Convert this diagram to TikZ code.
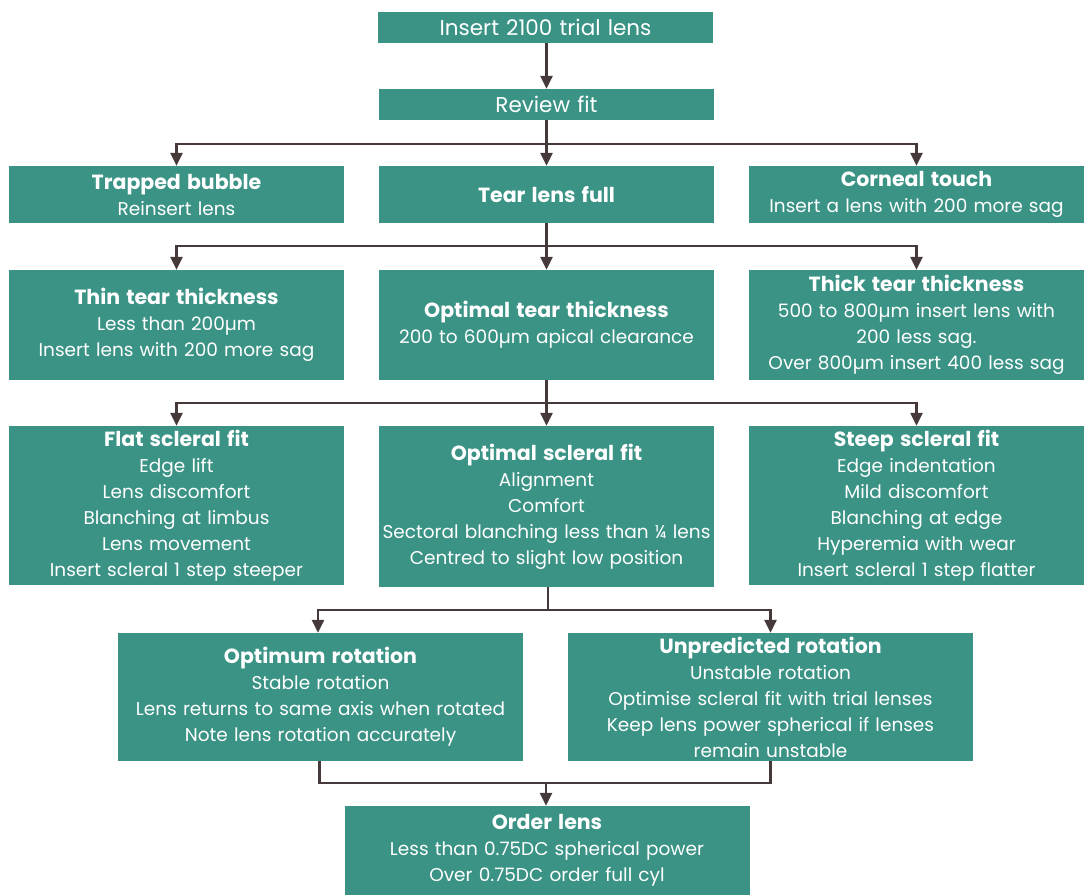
\documentclass[tikz,border=0pt]{standalone}
\usepackage{fontspec}
\setmainfont{Poppins}
\usetikzlibrary{arrows.meta}

\definecolor{boxteal}{HTML}{3A9385}
\definecolor{linebrown}{HTML}{45393A}

\tikzset{
  fitbox/.style={fill=boxteal, text=white, inner sep=0pt, align=center,
    font=\fontsize{18.5}{26}\selectfont},
  bigtext/.style={font=\fontsize{21.5}{26}\selectfont},
  wide/.style={minimum width=335pt, text width=335pt},
  rot/.style={minimum width=405pt, text width=405pt},
  flow/.style={draw=linebrown, line width=2.4pt, -{Triangle[width=12pt,length=13pt]}},
  link/.style={draw=linebrown, line width=2.4pt}
}

\newcommand{\ttl}[1]{{\bfseries\fontsize{20.5}{26}\selectfont #1}}

\begin{document}
\begin{tikzpicture}[x=1pt,y=-1pt]

    \useasboundingbox (0,0) rectangle (1087,895);

    % first two steps
    \node[fitbox, bigtext, wide, minimum height=31pt] (insert) at (545.5,27.5) {Insert 2100 trial lens};

    \node[fitbox, bigtext, wide, minimum height=31pt] (review) at (546.5,104.5) {Review fit};

    % review outcome
    \node[fitbox, wide, minimum height=57pt] (bubble) at (176.5,194.5) {\ttl{Trapped bubble}\\Reinsert lens};

    \node[fitbox, wide, minimum height=57pt] (full) at (546.5,194.5) {\ttl{Tear lens full}};

    \node[fitbox, wide, minimum height=57pt] (touch) at (916.5,194.5) {\ttl{Corneal touch}\\Insert a lens with 200 more sag};

    % tear thickness
    \node[fitbox, wide, minimum height=110pt] (thin) at (176.5,325) {\ttl{Thin tear thickness}\\Less than 200µm\\Insert lens with 200 more sag};

    \node[fitbox, wide, minimum height=110pt] (optear) at (546.5,325) {\ttl{Optimal tear thickness}\\200 to 600µm apical clearance};

    \node[fitbox, wide, minimum height=110pt] (thick) at (916.5,325) {\ttl{Thick tear thickness}\\500 to 800µm insert lens with\\200 less sag.\\Over 800µm insert 400 less sag};

    % scleral fit
    \node[fitbox, wide, minimum height=159pt] (flat) at (176.5,505.5) {\ttl{Flat scleral fit}\\Edge lift\\Lens discomfort\\Blanching at limbus\\Lens movement\\Insert scleral 1 step steeper};

    \node[fitbox, wide, minimum height=161pt] (opscl) at (546.5,506.5) {\ttl{Optimal scleral fit}\\Alignment\\Comfort\\Sectoral blanching less than ¼ lens\\Centred to slight low position};

    \node[fitbox, wide, minimum height=159pt] (steep) at (916.5,505.5) {\ttl{Steep scleral fit}\\Edge indentation\\Mild discomfort\\Blanching at edge\\Hyperemia with wear\\Insert scleral 1 step flatter};

    % rotation
    \node[fitbox, rot, minimum height=128pt] (optrot) at (320.5,697) {\ttl{Optimum rotation}\\Stable rotation\\Lens returns to same axis when rotated\\Note lens rotation accurately};

    \node[fitbox, rot, minimum height=128pt] (unrot) at (770.5,697) {\ttl{Unpredicted rotation}\\Unstable rotation\\Optimise scleral fit with trial lenses\\Keep lens power spherical if lenses\\remain unstable};

    % order
    \node[fitbox, rot, minimum height=89pt] (order) at (547,850.5) {\ttl{Order lens}\\Less than 0.75DC spherical power\\Over 0.75DC order full cyl};

    % junction points
    \coordinate (j1) at (546.5,144);
    \coordinate (j2) at (546.5,246);
    \coordinate (j3) at (546.5,403);
    \coordinate (j4) at (548,610);
    \coordinate (j5) at (546,783);

    \draw[flow] (insert.south -| review) -- (review);

    \draw[flow] (review) -- (full);
    \draw[flow] (j1) -| (bubble);
    \draw[flow] (j1) -| (touch);

    \draw[flow] (full) -- (optear);
    \draw[flow] (j2) -| (thin);
    \draw[flow] (j2) -| (thick);

    \draw[flow] (optear) -- (opscl);
    \draw[flow] (j3) -| (flat);
    \draw[flow] (j3) -| (steep);

    \draw[link] (opscl.south -| j4) -- (j4);
    \draw[flow] (j4) -| ([xshift=-2.5pt]optrot.north);
    \draw[flow] (j4) -| (unrot);

    \draw[link] ([xshift=-1pt]optrot.south) |- (j5);
    \draw[link] (unrot.south) |- (j5);
    \draw[flow] (j5) -- (order.north -| j5);

  \end{tikzpicture}
\end{document}
